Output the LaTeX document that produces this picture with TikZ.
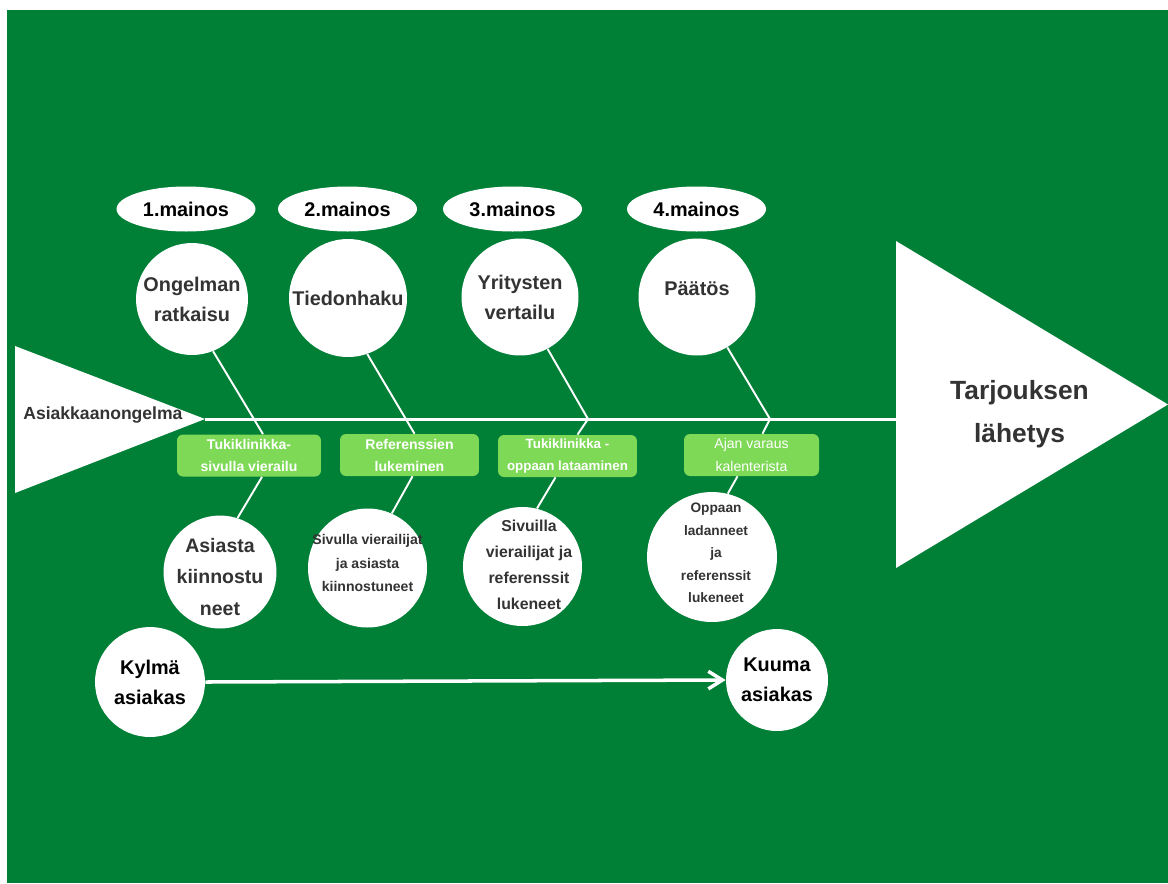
\documentclass[tikz,border=0pt]{standalone}
\usepackage{fontspec}
\setmainfont{Liberation Sans}
\usepackage{tikz}
\usetikzlibrary{arrows.meta,positioning,shapes.geometric,calc}
\definecolor{fishGreen}{HTML}{007F36}
\definecolor{stepGreen}{HTML}{7ED957}
\definecolor{inkGray}{HTML}{333333}

\begin{document}
\begin{tikzpicture}[x=0.02cm, y=-0.02cm,
        ad/.style={ellipse, fill=white, inner sep=0pt, minimum width=2.78cm, minimum height=0.9cm, text=black, font=\fontsize{11.3}{13}\selectfont\bfseries},
        bubble/.style={circle, fill=white, inner sep=0pt, align=center, text=inkGray, font=\fontsize{11.3}{17}\selectfont\bfseries},
        bigtext/.style={inner sep=0pt, align=center, text=inkGray, font=\fontsize{11.3}{17}\selectfont\bfseries},
        smalltext/.style={inner sep=0pt, align=center, text=inkGray, font=\fontsize{8}{13.3}\selectfont\bfseries},
        stepbox/.style={fill=stepGreen, rounded corners=3.4pt, minimum width=2.78cm, minimum height=0.84cm, inner sep=0pt, align=center, text=white, font=\fontsize{8}{12.5}\selectfont\bfseries},
        bone/.style={draw=white, line width=1.1pt},
        spine/.style={draw=white, line width=1.7pt},
        arrow/.style={-{Straight Barb[length=8pt, width=10pt]}, draw=white, line width=2pt}
    ]
        \useasboundingbox (0,0) rectangle (1168,883);
        \fill[white] (0,0) rectangle (1168,883);
        \fill[fishGreen] (7,10) rectangle (1168,883);

        % tail and head of the fish
        \coordinate (tailtip) at (205,419);
        \coordinate (headback) at (896,419);
        \fill[white] (15,346) -- (15,493) -- (tailtip) -- cycle;
        \fill[white] (896,241) -- (896,568) -- (1168,404.5) -- cycle;
        \draw[spine] (tailtip) -- (headback);

        \node[inner sep=0pt, anchor=base west, text=inkGray, font=\fontsize{10}{12}\selectfont\bfseries] (problem) at (23,419) {Asiakkaanongelma};
        \node[inner sep=0pt, align=center, text=inkGray, font=\fontsize{15}{24.4}\selectfont\bfseries] (offer) at (1019.5,414.5) {Tarjouksen\\lähetys};

        % ads
        \node[ad] (m1) at (186,209) {1.mainos};
        \node[ad] (m2) at (347.5,209) {2.mainos};
        \node[ad] (m3) at (512.5,209) {3.mainos};
        \node[ad] (m4) at (696.5,209) {4.mainos};

        % upper circles
        \node[bubble, minimum size=2.24cm] (t1) at (192,299) {Ongelman\\ratkaisu};
        \node[bubble, minimum size=2.36cm] (t2) at (348,298) {Tiedonhaku};
        \node[bubble, minimum size=2.34cm] (t3) at (520,297) {Yritysten\\vertailu};
        \node[bubble, minimum size=2.34cm] (t4) at (697,297) {};
        \node[bigtext] (t4-text) at (697,289) {Päätös};

        % steps on the spine
        \node[stepbox, minimum width=2.88cm] (b1) at (249,455.5) {Tukiklinikka-\\sivulla vierailu};
        \node[stepbox] (b2) at (409.5,455) {Referenssien\\lukeminen};
        \node[stepbox, font=\fontsize{7.6}{12}\selectfont\bfseries] (b3) at (567.5,456) {Tukiklinikka -\\oppaan lataaminen};
        \node[stepbox, minimum width=2.7cm, font=\fontsize{8}{13}\selectfont] (b4) at (751.5,455) {Ajan varaus\\kalenterista};

        % lower circles
        \node[bubble, minimum size=2.26cm] (l1) at (220,572) {};
        \node[bubble, minimum size=2.38cm] (l2) at (367.5,568) {};
        \node[bubble, minimum size=2.38cm] (l3) at (522.5,566.5) {};
        \node[bubble, minimum size=2.6cm] (l4) at (712,557) {};
        \node[bigtext, font=\fontsize{11.1}{18}\selectfont\bfseries] (l1-text) at (220,577) {Asiasta\\kiinnostu\\neet};
        \node[smalltext] (l2-text) at (367.5,563) {Sivulla vierailijat\\ja asiasta\\kiinnostuneet};
        \node[smalltext, font=\fontsize{9}{14.7}\selectfont\bfseries] (l3-text) at (529,565) {Sivuilla\\vierailijat ja\\referenssit\\lukeneet};
        \node[smalltext, font=\fontsize{7.8}{12.8}\selectfont\bfseries] (l4-text) at (716,553) {Oppaan\\ladanneet\\ja\\referenssit\\lukeneet};

        % bones
        \coordinate (j3) at (588,419);
        \coordinate (j4) at (770,419);
        \draw[bone] (t1.-68) -- ($(b1.north)+(14,0)$);
        \draw[bone] ($(b1.south)+(13,0)$) -- (l1.72);
        \draw[bone] (t2.-71) -- ($(b2.north)+(5,0)$);
        \draw[bone] ($(b2.south)+(3,0)$) -- (l2.66);
        \draw[bone] (t3.-62) -- (j3) -- ($(b3.north)+(10,0)$);
        \draw[bone] ($(b3.south)+(-12,0)$) -- (l3.76);
        \draw[bone] (t4.-59) -- (j4) -- ($(b4.north)+(11,0)$);
        \draw[bone] ($(b4.south)+(-14,0)$) -- (l4.76);

        % customer temperature
        \node[bubble, minimum size=2.2cm, text=black] (cold) at (150,682) {Kylmä\\asiakas};
        \node[bubble, minimum size=2.04cm, text=black] (hot) at (777,680) {Kuuma\\asiakas};
        \draw[arrow] (cold.east) -- (hot.west);
    \end{tikzpicture}
\end{document}
